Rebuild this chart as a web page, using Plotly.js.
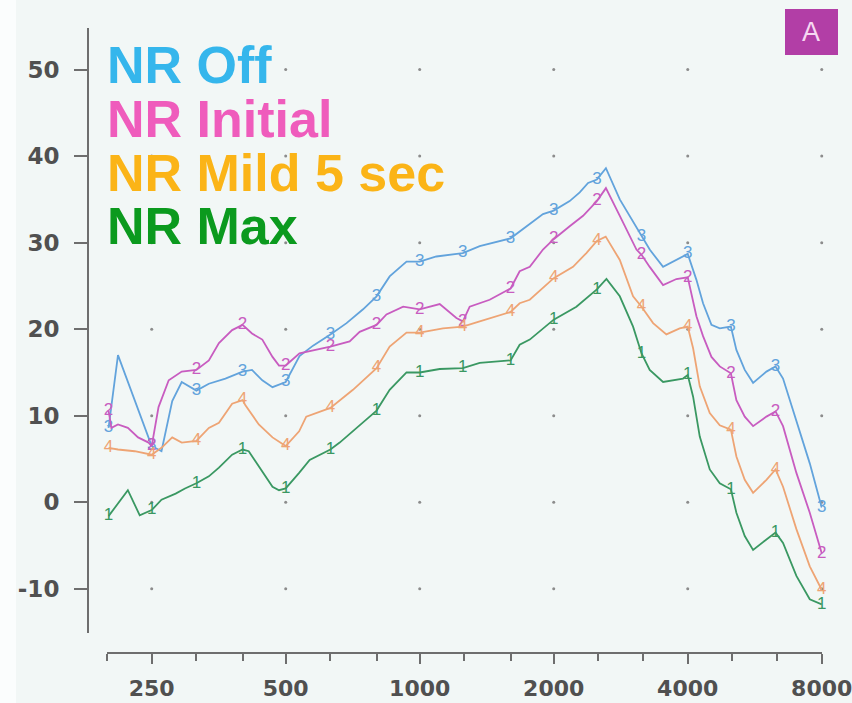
<!DOCTYPE html>
<html>
<head>
<meta charset="utf-8">
<script src="https://cdn.plot.ly/plotly-3.0.1.min.js"></script>
<style>html,body{margin:0;padding:0;background:#f2f7f6;}#chart{width:852px;height:703px;}</style>
</head>
<body>
<div id="chart"></div>
<script>
// ---- data ----
const markerFreqs = [200,250,315,400,500,630,800,1000,1250,1600,2000,2500,3150,4000,5000,6300,8000];
const xTickVals = [250,500,1000,2000,4000,8000];
const xTickText = ["250","500","1000","2000","4000","8000"];
const xMinorVals = [198.4,315,400,630,800,1260,1600,2520,3175,5040,6350];
const yTickVals = [-10,0,10,20,30,40,50];
const yTickText = ["-10","0","10","20","30","40","50"];

const seriesNames = ["NR Off","NR Initial","NR Mild 5 sec","NR Max"];
const seriesDigits = ["3","2","4","1"];

const offFreq = [200,210,250,263,278,292,315,336,366,400,420,443,467,500,537,576,630,685,746,800,856,934,1000,1090,1250,1364,1600,1677,1767,1892,2000,2172,2288,2389,2500,2620,2815,3150,3286,3521,3772,4000,4184,4330,4522,4721,5000,5145,5372,5609,6010,6300,6549,7017,7520,8000];
const offDb   = [8.6,17.0,6.5,5.9,11.7,13.9,12.9,13.7,14.3,15.1,15.3,14.1,13.3,13.9,16.9,18.1,19.4,20.7,22.3,23.8,26.1,27.8,27.8,28.4,28.8,29.6,30.5,31.3,32.1,33.3,33.7,34.8,35.8,36.9,37.3,38.6,35.0,30.7,29.2,27.2,28.0,28.7,25.7,23.0,20.5,20.1,20.3,17.6,15.3,13.8,15.1,15.7,14.3,9.5,4.5,-0.6];

const iniFreq = [200,203,210,221,233,246,250,259,273,292,315,336,354,379,400,420,443,467,483,500,537,630,696,733,800,842,918,1000,1109,1209,1250,1295,1436,1600,1677,1767,1892,2000,2172,2328,2500,2620,2815,3068,3150,3286,3521,3772,4000,4184,4330,4522,4721,5000,5145,5372,5609,6010,6300,6549,7017,7520,8000];
const iniDb   = [10.6,8.6,9.0,8.6,7.5,6.9,6.5,11.0,14.1,15.1,15.3,16.4,18.4,19.9,20.5,19.5,18.8,16.8,15.8,15.8,17.2,18.0,18.6,19.7,20.5,21.7,22.6,22.3,22.9,21.3,20.9,22.6,23.4,24.7,26.7,27.2,29.2,30.4,31.9,33.1,34.8,36.3,33.1,29.2,28.6,27.2,25.1,25.8,26.0,21.5,19.2,16.8,15.7,14.9,11.8,9.9,8.8,9.9,10.5,8.8,3.4,-1.2,-5.9];

const mildFreq = [200,210,229,250,263,278,292,315,336,354,379,400,406,435,467,500,536,556,630,708,800,856,934,1000,1128,1250,1364,1600,1677,1767,2000,2210,2368,2500,2617,2815,3015,3150,3344,3582,3837,4000,4113,4257,4483,4721,5000,5145,5372,5609,6010,6300,6549,7017,7520,8000];
const mildDb   = [6.3,6.1,5.9,5.5,6.3,7.5,6.9,7.1,8.6,9.2,11.4,11.8,11.2,9.0,7.5,6.5,8.2,9.9,10.9,13.0,15.5,18.0,19.6,19.6,20.1,20.3,20.9,22.0,23.0,23.4,25.9,27.2,28.8,30.2,30.7,28.0,23.8,22.6,20.7,19.4,20.1,20.3,17.8,13.4,10.3,8.9,8.4,5.3,2.6,1.1,2.6,3.8,1.8,-3.1,-7.4,-10.1];

const maxFreq = [200,221,235,250,263,283,297,315,336,354,379,400,413,435,467,483,500,536,566,630,661,772,800,856,934,1000,1109,1250,1364,1600,1677,1767,2000,2249,2500,2627,2815,3015,3150,3286,3521,3904,4000,4113,4257,4483,4721,5000,5145,5372,5609,6010,6300,6549,7017,7520,8000];
const maxDb   = [-1.6,1.4,-1.5,-0.9,0.3,1.0,1.6,2.2,3.0,4.0,5.5,6.1,5.9,4.2,1.8,1.4,1.6,3.4,4.9,6.1,6.9,9.9,10.6,13.0,15.0,15.0,15.4,15.5,16.1,16.4,18.2,18.8,21.1,22.6,24.6,25.8,23.8,20.3,17.2,15.3,13.9,14.3,14.7,12.2,7.6,3.8,2.2,1.5,-1.2,-3.9,-5.5,-4.3,-3.5,-4.7,-8.5,-11.2,-11.8];

// ---- styling ----
const W = 852, H = 703;
const px = v => v / W;
const py = v => 1 - v / H;
const lineColors = ["#62a3dc","#c85cc0","#eea474","#3a9862"];
const labelColors = ["#35b6ec","#ef5cbc","#fbb417","#0b9a1e"];

const freqs = [offFreq, iniFreq, mildFreq, maxFreq];
const vals = [offDb, iniDb, mildDb, maxDb];

const traces = [];
// grid dots built from tick arrays
const gx = [], gy = [];
xTickVals.forEach(f => yTickVals.forEach(v => { gx.push(f); gy.push(v); }));
traces.push({x: gx, y: gy, mode: "markers", type: "scatter", hoverinfo: "skip",
  marker: {size: 3, color: "#8c8c8c"}, cliponaxis: false, showlegend: false});

for (let i = 0; i < 4; i++) {
  traces.push({x: freqs[i], y: vals[i], mode: "lines", type: "scatter", name: seriesNames[i],
    line: {color: lineColors[i], width: 1.8}, cliponaxis: false, showlegend: false});
  const mx = [], my = [], mt = [];
  freqs[i].forEach((f, k) => { if (markerFreqs.includes(f)) { mx.push(f); my.push(vals[i][k]); mt.push(seriesDigits[i]); } });
  traces.push({x: mx, y: my, mode: "text", type: "scatter", text: mt, textposition: "middle center",
    textfont: {family: "Liberation Sans, Arial", size: 17, color: lineColors[i]},
    cliponaxis: false, showlegend: false, hoverinfo: "skip"});
}

const legendBaselines = [84, 138, 192, 245];
const annotations = seriesNames.map((n, i) => ({
  text: n, xref: "paper", yref: "paper", x: px(105), y: py(legendBaselines[i] - 19),
  xanchor: "left", yanchor: "middle", showarrow: false,
  font: {family: "Liberation Sans, Arial", size: 52, color: labelColors[i], weight: "bold"}
}));
annotations.push({text: "A", xref: "paper", yref: "paper", x: px(811), y: py(32),
  xanchor: "center", yanchor: "middle", showarrow: false,
  font: {family: "Liberation Sans, Arial", size: 27, color: "#f6d8f2"}});

const layout = {
  width: W, height: H, autosize: false,
  margin: {l: 0, r: 0, t: 0, b: 0, pad: 0},
  paper_bgcolor: "#f2f7f6", plot_bgcolor: "rgba(0,0,0,0)",
  showlegend: false,
  xaxis: {
    type: "log", range: [Math.log10(198.4), Math.log10(8000) + 0.0006],
    domain: [px(107), px(822)], anchor: "free", position: py(653),
    showline: true, linecolor: "#6e6e6e", linewidth: 2, showgrid: false, zeroline: false,
    tickmode: "array", tickvals: xTickVals, ticktext: xTickText,
    ticks: "outside", ticklen: 10, tickwidth: 2, tickcolor: "#6e6e6e",
    minor: {tickmode: "array", tickvals: xMinorVals, ticks: "outside", ticklen: 7, tickwidth: 2, tickcolor: "#6e6e6e", showgrid: false},
    tickfont: {family: "DejaVu Sans", size: 22, color: "#505050", weight: "bold"},
    ticklabelstandoff: 6, ticklabeloverflow: "allow"
  },
  yaxis: {
    range: [-15.1, 54.8], domain: [py(633), py(28)], anchor: "free", position: px(88),
    showline: true, linecolor: "#6e6e6e", linewidth: 2, showgrid: false, zeroline: false,
    tickmode: "array", tickvals: yTickVals, ticktext: yTickText,
    ticks: "outside", ticklen: 13, tickwidth: 2, tickcolor: "#6e6e6e",
    tickfont: {family: "DejaVu Sans", size: 23, color: "#505050", weight: "bold"},
    ticklabelstandoff: 10
  },
  shapes: [
    {type: "rect", xref: "paper", yref: "paper", x0: 0, x1: px(16), y0: 0, y1: 1, fillcolor: "#fbfdfd", line: {width: 0}, layer: "below"},
    {type: "rect", xref: "paper", yref: "paper", x0: px(785), x1: px(838), y0: py(55), y1: py(9), fillcolor: "#b23ea6", line: {width: 0}, layer: "below"}
  ],
  annotations: annotations
};

Plotly.newPlot("chart", traces, layout, {displayModeBar: false, staticPlot: true});
</script>
</body>
</html>
